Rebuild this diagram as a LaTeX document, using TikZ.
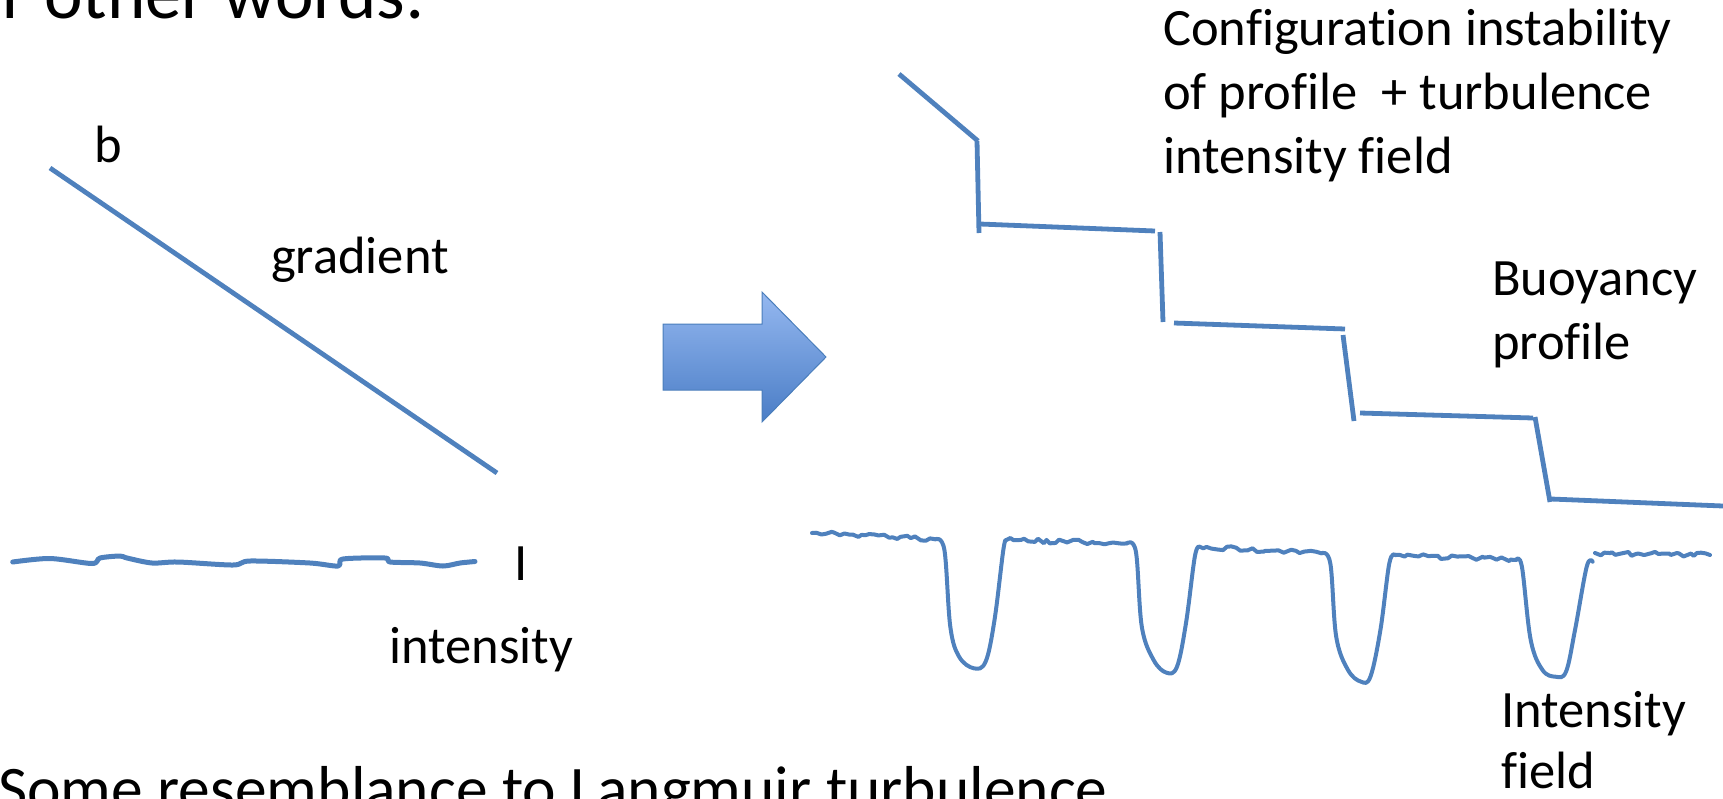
\documentclass[tikz,border=0pt]{standalone}
\usepackage{fontspec}
\setmainfont{Carlito}[Ligatures=NoCommon]
\usetikzlibrary{decorations.pathmorphing}
\definecolor{lineblue}{HTML}{4F81BD}
\definecolor{arrowtop}{HTML}{95B8F0}
\definecolor{arrowbot}{HTML}{4A7DC6}
\definecolor{arrowedge}{HTML}{4A7EBB}
\tikzset{
	txt/.style={inner sep=0pt, anchor=base west, align=left, font=\fontsize{52.5}{64}\selectfont},
	bigtxt/.style={inner sep=0pt, anchor=base west, font=\fontsize{73}{88}\selectfont},
	prof/.style={line width=4.8pt, color=lineblue},
	trace/.style={line width=4pt, color=lineblue, line cap=round, line join=round},
	noisy/.style={trace, decorate, decoration={random steps, segment length=4.5pt, amplitude=2.2pt}},
	blockarrow/.style={draw=arrowedge, line width=1pt, top color=arrowtop, bottom color=arrowbot}
}
\begin{document}
\begin{tikzpicture}[x=1pt, y=-1pt]
		\useasboundingbox (0,0) rectangle (1723,798);
		\pgfmathsetseed{7}
		%%%%% START %%%%%
		
		\node[bigtxt] (title) at (2, 18) {r other words:};
		\node[bigtxt, font=\fontsize{63.5}{76}\selectfont] (langmuir) at (-2, 810) {Some resemblance to Langmuir turbulence};
		
		\draw[prof] (50, 168) -- (497, 473);
		\node[txt] (b) at (94, 162) {b};
		\node[txt] (gradient) at (271, 273) {gradient};
		
		\draw[trace, line width=5pt] plot[smooth, tension=0.5] coordinates {(12.7, 562) (50, 558.5) (92, 563.5) (100, 558) (120, 556) (127, 558) (152, 563) (178, 562) (233, 565) (250, 561) (310, 563) (338, 566) (343, 559) (385, 558) (390, 562) (420, 563) (443, 566) (460, 563) (475, 561.5)};
		\node[txt] (I) at (514, 580) {I};
		\node[txt] (intensity) at (389, 663) {intensity};
		
		\draw[blockarrow] (663, 324) -- (762, 324) -- (762, 292) -- (826, 357) -- (762, 422) -- (762, 390) -- (663, 390) -- cycle;
		
		\draw[prof] (899, 74) -- (978, 141);
		\draw[prof] (977, 141) -- (979, 233);
		\draw[prof] (980, 224) -- (1155, 231);
		\draw[prof] (1160, 232) -- (1163, 322);
		\draw[prof] (1174, 323) -- (1345, 329);
		\draw[prof] (1343, 335) -- (1354, 421);
		\draw[prof] (1360, 413) -- (1533, 418);
		\draw[prof] (1535, 417) -- (1550, 502);
		\draw[prof] (1551, 499) -- (1723, 506);
		
		\node[txt] (config) at (1163, 173) {Configuration instability\\of profile\ \ + turbulence\\intensity field};
		\node[txt] (buoyancy) at (1492, 359) {Buoyancy\\profile};
		
		\draw[noisy] (812, 533) -- (935.5, 539.3);
		\draw[trace] plot[smooth, tension=0.6] coordinates {(935.5, 539.3) (944.4, 550) (950.3, 626.7) (959.1, 656.7) (973.8, 668.3) (985.6, 661.7) (994.5, 620) (1003.3, 550) (1006.2, 540)};
		\draw[noisy] (1006.2, 540) -- (1127, 543.3);
		\draw[trace] plot[smooth, tension=0.6] coordinates {(1127, 543.3) (1135.9, 551.7) (1141.8, 626.7) (1153.6, 660) (1166.5, 672.7) (1177, 666.7) (1186, 623) (1194.8, 556.7) (1199.5, 546.7)};
		\draw[noisy] (1199.5, 546.7) -- (1321.5, 553.3);
		\draw[trace] plot[smooth, tension=0.6] coordinates {(1321.5, 553.3) (1330.3, 563.3) (1336.2, 636.7) (1348, 670) (1361, 681.7) (1370.4, 676.7) (1380.4, 630) (1389.3, 563.3) (1395.2, 555)};
		\draw[noisy] (1395.2, 555) -- (1516, 560);
		\draw[trace] plot[smooth, tension=0.6] coordinates {(1516, 560) (1521.9, 566.7) (1530.7, 640) (1542.5, 670) (1555.5, 676.7) (1566, 671.7) (1575, 630) (1586.7, 566.7) (1592.6, 561.7)};
		\draw[noisy] (1595, 553) -- (1710, 555);
		
		\node[txt, font=\fontsize{52.5}{61}\selectfont] (field) at (1501, 788) {Intensity\\field};
		
		%%%%% END %%%%%
\end{tikzpicture}
\end{document}
